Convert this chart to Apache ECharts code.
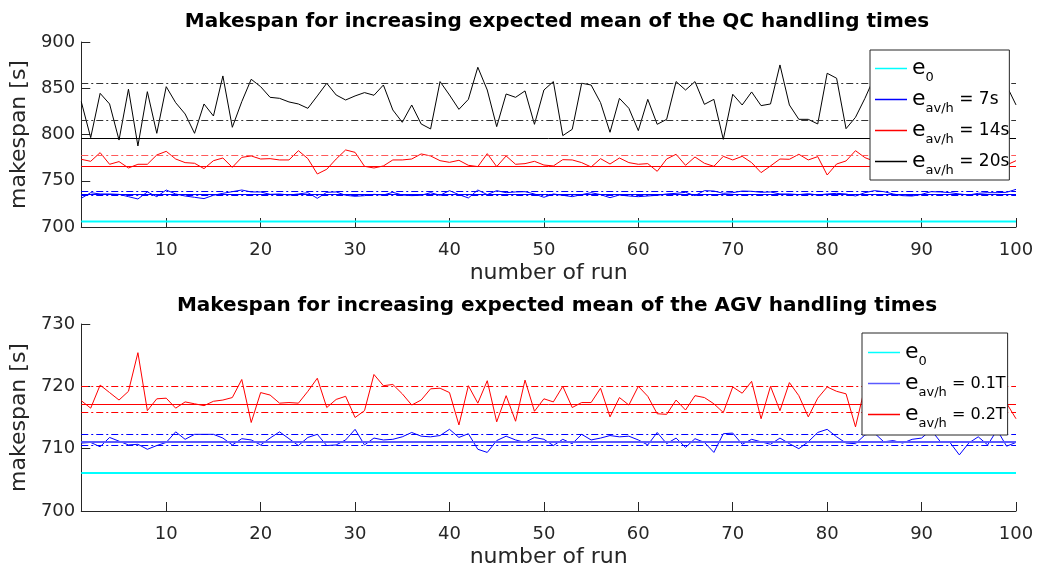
<!DOCTYPE html>
<html>
<head>
<meta charset="utf-8">
<script src="https://cdn.jsdelivr.net/npm/echarts@6/dist/echarts.min.js"></script>
<style>
  html, body { margin: 0; padding: 0; background: #fff; }
  #chart { width: 1037px; height: 572px; }
</style>
</head>
<body>
<div id="chart"></div>
<script>
// Run numbers 1..100 (x values) and tick labels of the run axis
const runs = Array.from({ length: 100 }, (_, i) => i + 1);
const runTicks = [10, 20, 30, 40, 50, 60, 70, 80, 90, 100];

// ---- QC handling times: makespan per run [s] ----
const qcE0 = 706;
const qcE7 = [
  731, 737.1, 735.7, 735.7, 735.3, 732.8, 730.3, 737.9, 732.8, 740,
  735.7, 733.5, 732.1, 730.7, 734.3, 736.4, 738.2, 740, 737.9, 737.9,
  735.3, 735.7, 734.6, 735.7, 737.1, 731, 737.5, 737.9, 734.3, 733.2,
  733.9, 735.3, 734.6, 737.5, 734.6, 733.9, 734.3, 737.1, 734.3, 739.3,
  735, 731.4, 740, 735, 739.3, 737.1, 737.9, 738.2, 735.7, 732.1,
  735.7, 734.3, 732.8, 735, 737.1, 735, 731.7, 734.6, 733.5, 732.8,
  733.5, 734.3, 735.7, 736.4, 737.5, 733.9, 739.3, 738.9, 736.4, 737.1,
  738.9, 738.6, 737.5, 737.9, 735.7, 735.7, 735, 736, 734.6, 735.7,
  736.4, 735.7, 733.5, 737.1, 739.3, 738.2, 735.7, 733.9, 733.5, 735.3,
  738.2, 737.9, 737.1, 735.7, 734.6, 736.4, 737.1, 737.1, 737.5, 740.7
];
const qcE14 = [
  773.2, 771, 780.4, 767.8, 770.7, 763.8, 767.8, 767.8, 777.9, 781.8,
  773.5, 769.6, 768.9, 763.1, 771.7, 774.6, 764.5, 775.3, 776.8, 773.5,
  773.9, 772.5, 772.5, 782.5, 773.9, 757.3, 762.4, 773.5, 783.3, 780.7,
  765.6, 763.8, 766, 772.5, 772.5, 773.5, 779, 776.8, 771.7, 769.9,
  772.1, 766.7, 765.3, 779.3, 765.3, 776.8, 767.8, 768.5, 771, 767,
  766, 772.8, 772.5, 769.6, 764.9, 773.9, 768.1, 774.6, 769.6, 767.8,
  768.5, 760.2, 773.5, 778.6, 766.7, 775.7, 768.9, 765.6, 776.4, 772.5,
  776.4, 769.6, 758.8, 766, 773.5, 773.2, 778.6, 772.5, 776.1, 756.2,
  768.1, 771.4, 782.5, 775, 771, 768, 774, 765, 776, 770,
  767, 773, 779, 769, 766, 775, 772, 770, 767, 771.7
];
const qcE20 = [
  835.5, 796.6, 844.5, 833, 794, 849, 787.6, 846.3, 801.3, 851.7,
  834.4, 822.2, 801.3, 833, 820, 863.3, 807.8, 835.5, 859.7, 851.7,
  840.2, 839.1, 835.2, 833, 828.3, 841.7, 855.4, 842.7, 837.3, 841.7,
  845.3, 842.4, 853.5, 826.5, 813.2, 831.9, 811.4, 806, 857.2, 842.7,
  827.2, 838, 872.7, 848.1, 808.5, 843.8, 840.2, 847.1, 811, 848.1,
  857.2, 798.8, 805.6, 855.4, 853.5, 834.4, 802.4, 839.1, 828.3, 804.2,
  838, 811, 816.4, 857.2, 848.1, 857.2, 832.6, 838, 794.8, 843.5,
  831.9, 846, 831.2, 833, 875.2, 831.9, 816.4, 816.4, 811.4, 866.2,
  860.8, 806.3, 818.6, 839.1, 862, 842, 826, 850, 835, 862,
  820, 845, 838, 853, 829, 847, 840, 860, 853, 832
];
// Reference levels (solid and dash-dotted) per QC setting
const qcE7Mean = 735.9, qcE7Band = [733.9, 738.2];
const qcE14Mean = 765.6, qcE14Band = [777.1];
const qcE20Mean = 795.9, qcE20Band = [815.7, 854.9];
const qcTicks = { min: 700, max: 900, step: 50 };

// ---- AGV handling times: makespan per run [s] ----
const agvE0 = 706.1;
const agvE01T = [
  710.9, 711, 710.3, 711.8, 711.2, 710.6, 710.7, 709.9, 710.5, 711,
  712.7, 711.5, 712.3, 712.3, 712.3, 711.7, 710.6, 711.6, 711.4, 710.6,
  711.7, 712.7, 711.6, 710.5, 711.8, 712.3, 710.5, 710.6, 711.4, 713.1,
  710.6, 711.7, 711.4, 711.5, 711.9, 712.6, 712, 711.9, 712.1, 713.1,
  711.8, 712.4, 709.9, 709.4, 711.3, 712, 711.4, 711, 711.8, 711.5,
  710.5, 711.5, 710.8, 712.3, 711.4, 711.7, 712.1, 711.9, 712, 711.4,
  710.6, 712.6, 710.8, 711.7, 710.2, 711.6, 711, 709.4, 712.4, 712.5,
  710.7, 711.5, 711.1, 710.7, 711.7, 710.8, 710, 711.1, 712.6, 713.1,
  711.9, 710.9, 710.8, 712.2, 712.5, 711.1, 711.3, 710.9, 711.5, 711.7,
  713, 711.1, 711, 709, 710.9, 711.9, 710.6, 713, 710.4, 711
];
const agvE02T = [
  717.7, 716.5, 720.2, 719, 717.8, 719.2, 725.4, 716.1, 718, 718.1,
  716.5, 717.5, 717.2, 716.9, 717.6, 717.8, 718.2, 721.1, 714.2, 719,
  718.6, 717.3, 717.4, 717.3, 719.2, 721.3, 716.6, 717.9, 718.4, 715,
  716.1, 721.9, 720.1, 720.3, 718.8, 717, 717.8, 719.6, 719.7, 719,
  713.8, 720.1, 717.3, 720.9, 714.3, 718.5, 714.4, 721, 716, 718,
  717.5, 720, 716.6, 717.4, 717.4, 719.7, 715.1, 718.2, 717, 720,
  718.4, 715.6, 715.5, 717.8, 716.2, 718.5, 718.2, 717.2, 715.8, 719.9,
  718.9, 720.8, 714.8, 720, 716.1, 720.6, 718.5, 715.1, 718.1, 719.9,
  719.2, 718.8, 713.5, 719.9, 718, 716.5, 719.5, 717, 720.5, 715.8,
  718.6, 717.2, 719.8, 716.4, 718, 720.2, 716.8, 718.9, 717.3, 714.8
];
const agvE01TMean = 711.1, agvE01TBand = [710.5, 712.3];
const agvE02TMean = 717.1, agvE02TBand = [715.9, 720.0];
const agvTicks = { min: 700, max: 730, step: 10 };

// Legend entries (series names -> rich text with subscripts)
const legendText = {
  qc0: '{e|e}{s|0}',
  qc7: '{e|e}{s|av/h}{t| = 7s}',
  qc14: '{e|e}{s|av/h}{t| = 14s}',
  qc20: '{e|e}{s|av/h}{t| = 20s}',
  agv0: '{e|e}{s|0}',
  agv01: '{e|e}{s|av/h}{t| = 0.1T}',
  agv02: '{e|e}{s|av/h}{t| = 0.2T}'
};

const FONT = 'DejaVu Sans';
const AXIS = '#262626';
const DASHDOT = [7, 3, 2, 3];

function pairs(values) { return values.map((v, i) => [runs[i], v]); }
function flat(v) { return [[runs[0], v], [runs[runs.length - 1], v]]; }

function refLines(solid, band, color, bandColor, solidWidth) {
  const data = [];
  if (solid != null) data.push({ yAxis: solid, lineStyle: { type: 'solid', color: color, width: solidWidth || 1 } });
  band.forEach(v => data.push({ yAxis: v, lineStyle: { type: DASHDOT, color: bandColor, width: 1 } }));
  return { symbol: 'none', silent: true, label: { show: false }, emphasis: { disabled: true }, data: data };
}

function lineSeries(name, idx, data, color, width, mark) {
  const s = {
    name: name, type: 'line', xAxisIndex: idx, yAxisIndex: idx,
    data: data, symbol: 'none', showSymbol: false, silent: true,
    lineStyle: { color: color, width: width }, itemStyle: { color: color },
    emphasis: { disabled: true }, animation: false
  };
  if (mark) s.markLine = mark;
  return s;
}

function xAxisDef(gridIndex) {
  return {
    type: 'value', gridIndex: gridIndex, min: runs[0], max: runs[runs.length - 1],
    name: 'number of run', nameLocation: 'middle', nameGap: 35,
    nameTextStyle: { fontFamily: FONT, fontSize: 22, color: AXIS },
    axisLine: { show: true, onZero: false, lineStyle: { color: AXIS, width: 1 } },
    axisTick: { show: true, inside: true, length: 9, customValues: runTicks, lineStyle: { color: AXIS } },
    axisLabel: { customValues: runTicks, fontFamily: FONT, fontSize: 18, color: AXIS, margin: 14 },
    splitLine: { show: false }
  };
}

function yAxisDef(gridIndex, t) {
  return {
    type: 'value', gridIndex: gridIndex, min: t.min, max: t.max, interval: t.step,
    name: 'makespan [s]', nameLocation: 'middle', nameGap: 42, nameRotate: 90,
    nameTextStyle: { fontFamily: FONT, fontSize: 22, color: AXIS },
    axisLine: { show: true, onZero: false, lineStyle: { color: AXIS, width: 1 } },
    axisTick: { show: true, inside: true, length: 9, lineStyle: { color: AXIS } },
    axisLabel: { fontFamily: FONT, fontSize: 18, color: AXIS, margin: 6 },
    splitLine: { show: false }
  };
}

// Legend item: a short horizontal bar in the series colour
function legendItem(name, color) {
  return { name: name, icon: 'rect', itemStyle: { color: color, borderWidth: 0, opacity: 1 } };
}

function legendDef(items, left, top, padding, textSize) {
  return {
    data: items, orient: 'vertical', left: left, top: top, padding: padding,
    itemGap: 0, itemWidth: 32, itemHeight: 1.5,
    backgroundColor: '#fff', borderColor: AXIS, borderWidth: 1, borderRadius: 0,
    selectedMode: false, z: 20,
    formatter: n => legendText[n],
    textStyle: {
      fontFamily: FONT, color: '#000', lineHeight: 31,
      rich: {
        e: { fontFamily: FONT, fontSize: 22, lineHeight: 31, color: '#000' },
        s: { fontFamily: FONT, fontSize: 13, lineHeight: 31, verticalAlign: 'bottom', color: '#000' },
        t: { fontFamily: FONT, fontSize: textSize, lineHeight: 31, color: '#000' }
      }
    }
  };
}

const chart = echarts.init(document.getElementById('chart'), null, { renderer: 'canvas' });
chart.setOption({
  backgroundColor: '#fff',
  animation: false,
  title: [
    { text: 'Makespan for increasing expected mean of the QC handling times', left: 552, top: 7, textAlign: 'center',
      textStyle: { fontFamily: FONT, fontWeight: 'bold', fontSize: 20, color: '#000' } },
    { text: 'Makespan for increasing expected mean of the AGV handling times', left: 552, top: 291, textAlign: 'center',
      textStyle: { fontFamily: FONT, fontWeight: 'bold', fontSize: 20, color: '#000' } }
  ],
  grid: [
    { left: 77, right: 21, top: 42, height: 185 },
    { left: 77, right: 21, top: 324, height: 187 }
  ],
  xAxis: [xAxisDef(0), xAxisDef(1)],
  yAxis: [yAxisDef(0, qcTicks), yAxisDef(1, agvTicks)],
  legend: [
    legendDef([legendItem('qc0', '#00ffff'), legendItem('qc7', '#0000ff'), legendItem('qc14', '#ff0000'), legendItem('qc20', '#000000')],
      870, 50, [3, 0, 3, 5], 17),
    legendDef([legendItem('agv0', '#00ffff'), legendItem('agv01', '#5a5aff'), legendItem('agv02', '#ff0000')],
      862, 333, [4, 2, 5, 6], 16)
  ],
  series: [
    lineSeries('qc0', 0, flat(qcE0), '#00ffff', 2),
    lineSeries('qc7', 0, pairs(qcE7), '#0000ff', 1, refLines(qcE7Mean, qcE7Band, '#0000ff', '#0000ff')),
    lineSeries('qc14', 0, pairs(qcE14), '#ff0000', 1, refLines(qcE14Mean, qcE14Band, '#ff0000', '#ff5a5a')),
    lineSeries('qc20', 0, pairs(qcE20), '#000000', 1, refLines(qcE20Mean, qcE20Band, '#000000', '#333333')),
    lineSeries('agv0', 1, flat(agvE0), '#00ffff', 2),
    lineSeries('agv01', 1, pairs(agvE01T), '#0000ff', 1, refLines(agvE01TMean, agvE01TBand, '#5a5aff', '#0000ff', 2)),
    lineSeries('agv02', 1, pairs(agvE02T), '#ff0000', 1, refLines(agvE02TMean, agvE02TBand, '#ff0000', '#ff0000'))
  ]
});
</script>
</body>
</html>
